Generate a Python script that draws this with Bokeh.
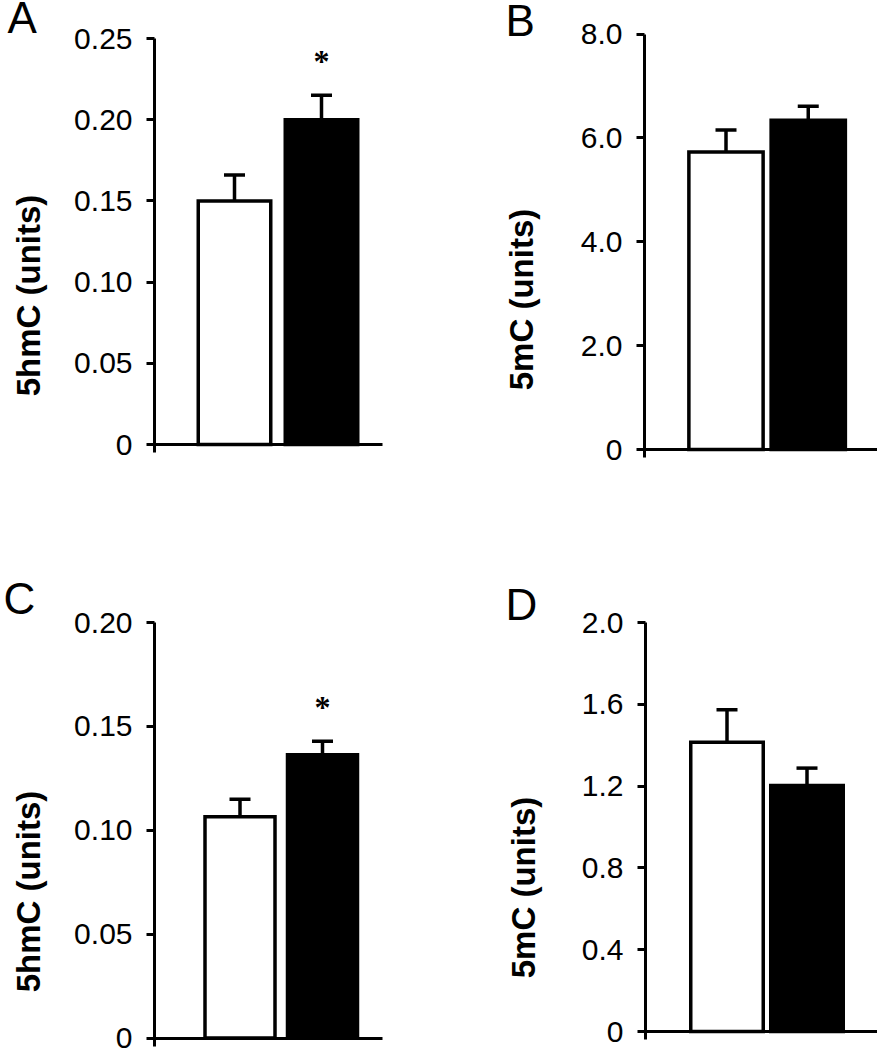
import math
from bokeh.plotting import figure
from bokeh.models import (Range1d, FixedTicker, CustomJSTickFormatter, Whisker, TeeHead,
                          ColumnDataSource, Label, LabelSet, LinearAxis)
from bokeh.layouts import column, row
from bokeh.embed import file_html
from bokeh.resources import INLINE

# ---------------- data ----------------
groups = [1, 2]
fills = ["white", "black"]

a_vals = [0.150, 0.200]
a_errs = [0.016, 0.015]
a_sig = ["", "*"]
a_ticks = [0, 0.05, 0.10, 0.15, 0.20, 0.25]

b_vals = [5.73, 6.34]
b_errs = [0.42, 0.27]
b_sig = ["", ""]
b_ticks = [0, 2.0, 4.0, 6.0, 8.0]

c_vals = [0.1065, 0.1363]
c_errs = [0.0084, 0.0066]
c_sig = ["", "*"]
c_ticks = [0, 0.05, 0.10, 0.15, 0.20]

d_vals = [1.415, 1.203]
d_errs = [0.158, 0.085]
d_sig = ["", ""]
d_ticks = [0, 0.4, 0.8, 1.2, 1.6, 2.0]

FONT = "Liberation Sans"
LW = 3.5


def panel(letter, ylabel, vals, errs, sig, ticks, decimals, *, origin, width, height,
          axis_x, top_y, zero_y, ext, centers, outer_w, right_x, title_xy, letter_xy):
    """All layout arguments are page pixel positions; they set the ranges only."""
    ox, oy = origin
    s = centers[1] - centers[0]                       # px per x unit
    ytop = ticks[-1]
    ppu = (zero_y - top_y) / ytop                     # px per y unit

    def xd(px):
        return 1 + (px - centers[0]) / s

    def yd(py):
        return (zero_y - py) / ppu

    p = figure(width=width, height=height, output_backend="svg", toolbar_location=None,
               x_range=Range1d(xd(ox), xd(ox + width)),
               y_range=Range1d(yd(oy + height), yd(oy)),
               x_axis_location=None, y_axis_location=None, min_border=0)
    p.outline_line_color = None
    p.grid.grid_line_color = None
    p.background_fill_color = "white"
    p.border_fill_color = "white"

    yax = LinearAxis(fixed_location=xd(axis_x), bounds=(yd(zero_y + ext), ytop))
    yax.ticker = FixedTicker(ticks=ticks)
    yax.formatter = CustomJSTickFormatter(args=dict(d=decimals),
                                          code="return tick == 0 ? '0' : tick.toFixed(d);")
    yax.axis_line_width = 3
    yax.axis_line_color = "black"
    yax.major_tick_line_width = 3
    yax.major_tick_line_color = "black"
    yax.major_tick_in = 0
    yax.major_tick_out = 8
    yax.minor_tick_line_color = None
    yax.major_label_standoff = 14
    yax.major_label_text_font = FONT
    yax.major_label_text_font_size = "30px"
    yax.major_label_text_color = "black"
    p.add_layout(yax, "left")

    xax = LinearAxis(fixed_location=0, bounds=(xd(axis_x), xd(right_x)),
                     ticker=FixedTicker(ticks=[]))
    xax.axis_line_width = 3
    xax.axis_line_color = "black"
    xax.major_tick_line_color = None
    xax.minor_tick_line_color = None
    xax.major_label_text_color = None
    p.add_layout(xax, "below")

    src = ColumnDataSource(dict(
        x=groups, top=vals, upper=[v + e for v, e in zip(vals, errs)],
        fill=fills, sig=sig))

    p.vbar(x="x", top="top", bottom=0, width=(outer_w - LW) / s, source=src,
           fill_color="fill", line_color="black", line_width=LW, line_join="miter")
    p.add_layout(Whisker(source=src, base="x", lower="top", upper="upper",
                         lower_head=None,
                         upper_head=TeeHead(size=21, line_width=LW, line_color="black"),
                         line_width=LW, line_color="black"))
    p.add_layout(LabelSet(source=src, x="x", y="upper", text="sig", y_offset=23,
                          text_align="center", text_baseline="alphabetic",
                          text_font=FONT, text_font_style="bold",
                          text_font_size="32px", text_color="black"))
    # y-axis title
    p.add_layout(Label(x=title_xy[0] - ox, y=height - (title_xy[1] - oy),
                       x_units="screen", y_units="screen",
                       text=ylabel, angle=math.pi / 2, text_align="center",
                       text_baseline="middle", text_font=FONT, text_font_style="bold",
                       text_font_size="33px", text_color="black"))
    # panel letter
    p.add_layout(Label(x=letter_xy[0] - ox, y=height - (letter_xy[1] - oy),
                       x_units="screen", y_units="screen",
                       text=letter, text_font=FONT, text_font_size="44px",
                       text_color="black", text_baseline="alphabetic", text_align="left"))
    return p


H1, H2, W1, W2 = 570, 480, 438, 439

pA = panel("A", "5hmC (units)", a_vals, a_errs, a_sig, a_ticks, 2,
           origin=(0, 0), width=W1, height=H1,
           axis_x=154, top_y=38, zero_y=444, ext=8, centers=(234, 321), outer_w=76,
           right_x=382, title_xy=(28, 295), letter_xy=(7, 17))
pB = panel("B", "5mC (units)", b_vals, b_errs, b_sig, b_ticks, 1,
           origin=(W1, 0), width=W2, height=H1,
           axis_x=644, top_y=33.5, zero_y=449, ext=8, centers=(725.5, 807.75),
           outer_w=77.75, right_x=877, title_xy=(521, 299), letter_xy=(505, 20))
pC = panel("C", "5hmC (units)", c_vals, c_errs, c_sig, c_ticks, 2,
           origin=(0, H1), width=W1, height=H2,
           axis_x=154, top_y=622, zero_y=1037.5, ext=8.5, centers=(239.5, 322),
           outer_w=73.5, right_x=382, title_xy=(28, 891), letter_xy=(3, 598))
pD = panel("D", "5mC (units)", d_vals, d_errs, d_sig, d_ticks, 1,
           origin=(W1, H1), width=W2, height=H2,
           axis_x=645, top_y=622, zero_y=1031, ext=8, centers=(726.5, 806.5),
           outer_w=76, right_x=877, title_xy=(522.5, 887), letter_xy=(505, 604))

layout = column(row(pA, pB), row(pC, pD))

open("out.html", "w").write(file_html(layout, INLINE))
